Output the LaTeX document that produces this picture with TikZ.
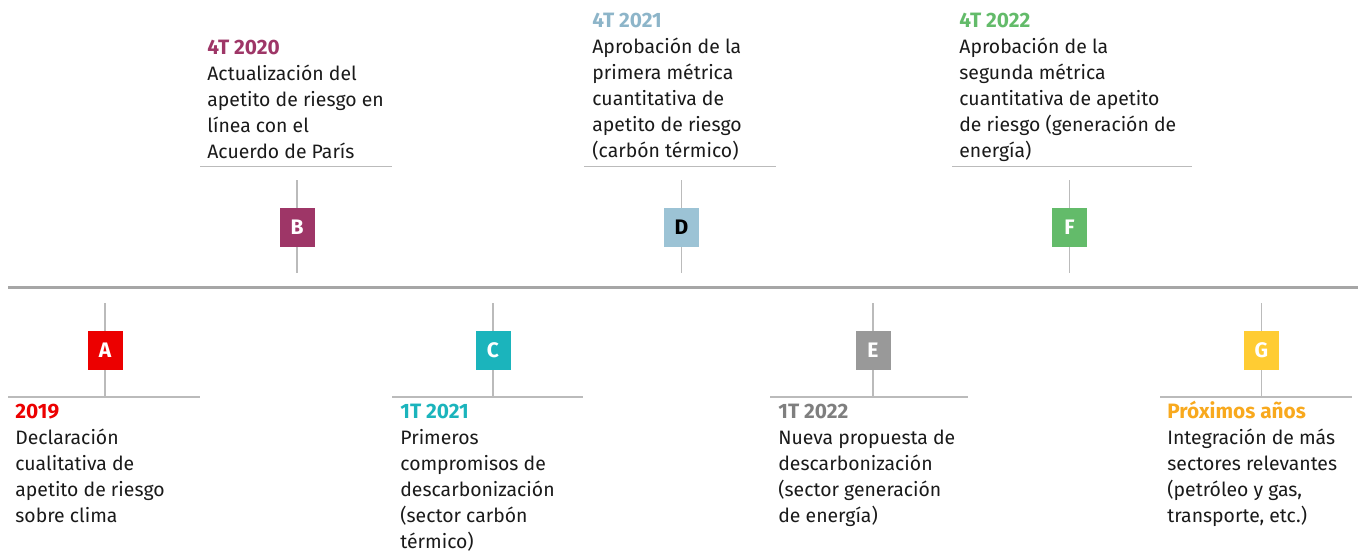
\documentclass[tikz,border=0pt]{standalone}
\usepackage{fontspec}
\setmainfont{Fira Sans}

\definecolor{colA}{HTML}{EC0000}
\definecolor{colB}{HTML}{9E3667}
\definecolor{colC}{HTML}{1BB4BC}
\definecolor{colD}{HTML}{9CC3D5}
\definecolor{colDt}{HTML}{8DB5C9}
\definecolor{colE}{HTML}{999999}
\definecolor{colEt}{HTML}{7F7F7F}
\definecolor{colF}{HTML}{63BB6A}
\definecolor{colG}{HTML}{FFCC33}
\definecolor{colGt}{HTML}{F8A91E}
\definecolor{lineGray}{HTML}{BBBBBB}
\definecolor{axisGray}{HTML}{A6A6A6}
\definecolor{bodyText}{HTML}{1A1A1A}

\newcommand{\evtitle}[2]{{\fontsize{20.8}{26}\selectfont\bfseries\color{#1}#2}}

\tikzset{every picture/.style={line width=0.75pt}}

\begin{document}
\begin{tikzpicture}[x=1pt,y=1pt,yscale=-1,xscale=1,
	tick/.style={draw=lineGray, line width=1.5pt},
	markbox/.style={fill=#1, minimum width=35pt, minimum height=39pt, inner sep=0pt,
		text=white, font=\fontsize{21}{21}\selectfont\bfseries},
	textnode/.style={anchor=north west, inner sep=0pt, align=left,
		font=\fontsize{19.4}{26}\selectfont, text=bodyText}]
	\useasboundingbox (0,0) rectangle (1360,554);
	
	%Timeline
	\coordinate (axisL) at (8,287.5);
	\coordinate (axisR) at (1358,287.5);
	\draw [draw=axisGray, line width=2.5pt] (axisL) -- (axisR);
	
	%Marker A
	\coordinate (vA1) at (105,303);
	\coordinate (vA2) at (105,396);
	\draw [tick] (vA1) -- (vA2);
	\node [markbox=colA] (boxA) at (105,350) {A};
	\coordinate (hA1) at (8,397);
	\coordinate (hA2) at (200,397);
	\draw [tick] (hA1) -- (hA2);
	% Text Node
	\node [textnode] (txtA) at (15,399.8) {\strut\evtitle{colA}{2019}\\Declaración\\cualitativa de\\apetito de riesgo\\sobre clima};
	
	%Marker B
	\coordinate (vB1) at (297,180);
	\coordinate (vB2) at (297,273);
	\draw [tick] (vB1) -- (vB2);
	\node [markbox=colB] (boxB) at (297,227) {B};
	\coordinate (hB1) at (200,166.5);
	\coordinate (hB2) at (392,166.5);
	\draw [tick] (hB1) -- (hB2);
	% Text Node
	\node [textnode] (txtB) at (207,35.8) {\strut\evtitle{colB}{4T 2020}\\Actualización del\\apetito de riesgo en\\línea con el\\Acuerdo de París};
	
	%Marker C
	\coordinate (vC1) at (493,303);
	\coordinate (vC2) at (493,396);
	\draw [tick] (vC1) -- (vC2);
	\node [markbox=colC] (boxC) at (493,350) {C};
	\coordinate (hC1) at (392,397);
	\coordinate (hC2) at (583,397);
	\draw [tick] (hC1) -- (hC2);
	% Text Node
	\node [textnode] (txtC) at (400,399.8) {\strut\evtitle{colC}{1T 2021}\\Primeros\\compromisos de\\descarbonización\\(sector carbón\\térmico)};
	
	%Marker D
	\coordinate (vD1) at (681.5,180);
	\coordinate (vD2) at (681.5,273);
	\draw [tick] (vD1) -- (vD2);
	\node [markbox=colD, text=black] (boxD) at (681.5,227) {D};
	\coordinate (hD1) at (584,166.5);
	\coordinate (hD2) at (776,166.5);
	\draw [tick] (hD1) -- (hD2);
	% Text Node
	\node [textnode] (txtD) at (592,8.5) {\strut\evtitle{colDt}{4T 2021}\\Aprobación de la\\primera métrica\\cuantitativa de\\apetito de riesgo\\(carbón térmico)};
	
	%Marker E
	\coordinate (vE1) at (873,303);
	\coordinate (vE2) at (873,396);
	\draw [tick] (vE1) -- (vE2);
	\node [markbox=colE] (boxE) at (873,350) {E};
	\coordinate (hE1) at (770,397);
	\coordinate (hE2) at (968,397);
	\draw [tick] (hE1) -- (hE2);
	% Text Node
	\node [textnode] (txtE) at (778,399.8) {\strut\evtitle{colEt}{1T 2022}\\Nueva propuesta de\\descarbonización\\(sector generación\\de energía)};
	
	%Marker F
	\coordinate (vF1) at (1069.5,180);
	\coordinate (vF2) at (1069.5,273);
	\draw [tick] (vF1) -- (vF2);
	\node [markbox=colF] (boxF) at (1069.5,227) {F};
	\coordinate (hF1) at (952,166.5);
	\coordinate (hF2) at (1192,166.5);
	\draw [tick] (hF1) -- (hF2);
	% Text Node
	\node [textnode] (txtF) at (959,8.5) {\strut\evtitle{colF}{4T 2022}\\Aprobación de la\\segunda métrica\\cuantitativa de apetito\\de riesgo (generación de\\energía)};
	
	%Marker G
	\coordinate (vG1) at (1261.5,303);
	\coordinate (vG2) at (1261.5,396);
	\draw [tick] (vG1) -- (vG2);
	\node [markbox=colG] (boxG) at (1261.5,350) {G};
	\coordinate (hG1) at (1160,397);
	\coordinate (hG2) at (1352,397);
	\draw [tick] (hG1) -- (hG2);
	% Text Node
	\node [textnode] (txtG) at (1167,399.8) {\strut\evtitle{colGt}{Próximos años}\\Integración de más\\sectores relevantes\\(petróleo y gas,\\transporte, etc.)};
\end{tikzpicture}
\end{document}
